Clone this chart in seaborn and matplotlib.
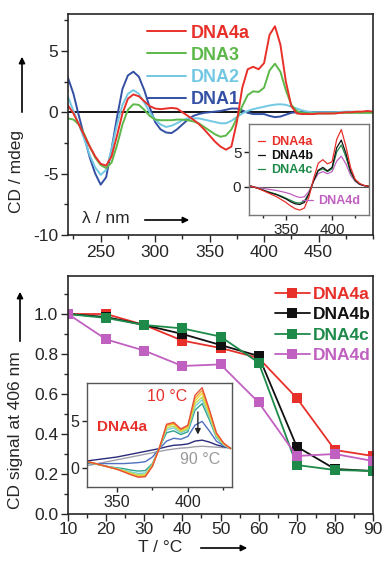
import numpy as np
import matplotlib
matplotlib.use("Agg")
import matplotlib.pyplot as plt
from matplotlib.ticker import MultipleLocator
import seaborn as sns

# ---- main CD spectra (top panel), 220-500 nm every 5 nm ----
wl = np.arange(220, 501, 5)
dna1 = [2.8, 1.5, -0.3, -2.0, -3.7, -5.0, -5.9, -5.3, -3.0, -0.4, 1.9, 3.0, 3.3, 2.9, 1.8, 0.4,
        -0.8, -1.4, -1.65, -1.7, -1.4, -1.0, -0.6, -0.3, -0.15, -0.05, 0.0, 0.05, 0.1, 0.2, 0.3,
        0.3, 0.15, -0.05, -0.15, -0.15, -0.15, -0.3, -0.4, -0.35, -0.2, -0.05, 0.0, 0.0, 0.0,
        0.0, 0.0, 0.0, 0.0, 0.0, 0.0, 0.0, 0.0, 0.0, 0.0, 0.0, 0.0]
dna2 = [1.25, 0.1, -1.0, -2.2, -3.5, -4.5, -5.1, -4.7, -3.0, -1.0, 0.6, 1.5, 1.8, 1.5, 0.8, 0.0,
        -0.6, -1.0, -1.2, -1.1, -0.9, -0.65, -0.5, -0.5, -0.5, -0.6, -0.7, -0.8, -0.9, -0.9, -0.7,
        -0.4, -0.1, 0.1, 0.25, 0.35, 0.45, 0.55, 0.62, 0.65, 0.6, 0.45, 0.3, 0.15, 0.05, 0.0,
        0.0, 0.0, 0.0, 0.0, 0.02, 0.05, 0.05, 0.02, 0.0, 0.0, 0.0]
dna3 = [-0.5, -0.6, -1.0, -1.8, -2.8, -3.7, -4.3, -4.55, -4.1, -2.7, -1.0, 0.2, 0.65, 0.6, 0.2,
        -0.3, -0.6, -0.65, -0.65, -0.65, -0.6, -0.6, -0.65, -0.75, -0.9, -1.2, -1.5, -1.8, -2.0,
        -1.9, -1.4, -0.5, 0.5, 1.4, 1.7, 1.65, 2.0, 3.4, 3.95, 3.3, 1.8, 0.6, 0.1, -0.05, -0.1,
        -0.1, -0.1, -0.1, -0.1, -0.08, -0.05, -0.05, -0.05, -0.05, -0.05, -0.05, -0.05]
dna4a = [0.55, -0.1, -1.0, -1.9, -2.8, -3.6, -4.2, -4.35, -3.6, -1.9, -0.1, 1.1, 1.45, 1.3, 0.9,
         0.5, 0.3, 0.25, 0.3, 0.35, 0.3, 0.0, -0.3, -0.6, -0.95, -1.4, -1.9, -2.4, -2.8, -3.05,
         -2.8, -0.8, 2.0, 3.5, 3.7, 3.5, 4.0, 6.3, 7.0, 5.5, 2.5, 0.5, -0.1, -0.15, -0.15, -0.15,
         -0.1, -0.1, -0.1, -0.1, -0.05, 0.0, 0.0, 0.05, 0.05, 0.1, 0.05]

# ---- top inset, 310-440 nm ----
wl_in = np.arange(310, 441, 5)
in4a = [0.2, 0.0, -0.2, -0.5, -0.8, -1.1, -1.4, -1.8, -2.2, -2.7, -3.1, -3.3, -3.0, -1.4, 1.2,
        3.4, 3.9, 3.3, 3.6, 6.8, 8.2, 5.8, 2.8, 1.1, 0.5, 0.2, 0.1]
in4b = [0.2, 0.0, -0.2, -0.45, -0.7, -0.9, -1.1, -1.4, -1.7, -2.1, -2.4, -2.5, -2.2, -1.0, 0.9,
        2.4, 2.8, 2.3, 2.8, 5.6, 6.7, 4.8, 2.3, 1.0, 0.4, 0.2, 0.1]
in4c = [0.2, 0.0, -0.2, -0.4, -0.65, -0.85, -1.05, -1.3, -1.6, -1.9, -2.2, -2.3, -2.0, -0.9, 0.9,
        2.3, 2.6, 2.2, 2.6, 5.0, 6.0, 4.3, 2.1, 0.9, 0.4, 0.2, 0.1]
in4d = [0.2, 0.05, -0.1, -0.2, -0.3, -0.4, -0.5, -0.65, -0.8, -1.0, -1.3, -1.5, -1.4, -0.6, 0.8,
        1.9, 2.2, 1.9, 2.2, 3.7, 4.4, 3.3, 1.7, 0.8, 0.35, 0.15, 0.1]

# ---- melting curves (bottom panel) ----
temps = [10, 20, 30, 40, 50, 60, 70, 80, 90]
melt4a = [1.0, 1.0, 0.945, 0.867, 0.83, 0.78, 0.58, 0.32, 0.29]
melt4b = [1.0, 0.985, 0.945, 0.9, 0.845, 0.79, 0.337, 0.225, 0.215]
melt4c = [1.0, 0.98, 0.945, 0.928, 0.887, 0.757, 0.245, 0.22, 0.215]
melt4d = [1.0, 0.873, 0.817, 0.74, 0.748, 0.558, 0.29, 0.30, 0.265]

# ---- bottom inset: DNA4a spectra at 10..90 C, 330-430 nm ----
wl_t = np.arange(330, 431, 5)
t10 = [0.7, 0.5, 0.3, 0.1, -0.1, -0.4, -0.7, -0.95, -0.9, 0.2, 2.2, 4.7, 4.9, 4.2, 4.6, 7.8, 8.6, 6.3, 3.8, 2.7, 2.1]
t20 = [0.7, 0.5, 0.3, 0.1, -0.1, -0.35, -0.65, -0.9, -0.85, 0.25, 2.2, 4.6, 4.8, 4.1, 4.5, 7.5, 8.3, 6.1, 3.7, 2.7, 2.1]
t30 = [0.7, 0.5, 0.3, 0.1, -0.1, -0.3, -0.6, -0.8, -0.75, 0.3, 2.2, 4.5, 4.7, 4.0, 4.4, 7.2, 8.0, 5.9, 3.6, 2.6, 2.1]
t40 = [0.65, 0.45, 0.3, 0.1, -0.05, -0.25, -0.5, -0.7, -0.65, 0.35, 2.2, 4.3, 4.5, 3.9, 4.2, 6.9, 7.6, 5.7, 3.5, 2.6, 2.1]
t50 = [0.65, 0.45, 0.3, 0.1, 0.0, -0.2, -0.4, -0.55, -0.5, 0.4, 2.2, 4.1, 4.3, 3.8, 4.1, 6.6, 7.3, 5.5, 3.4, 2.5, 2.1]
t60 = [0.6, 0.45, 0.3, 0.15, 0.05, -0.05, -0.2, -0.3, -0.25, 0.5, 2.2, 3.8, 4.0, 3.6, 3.9, 6.2, 6.9, 5.2, 3.3, 2.5, 2.1]
t70 = [0.5, 0.5, 0.5, 0.5, 0.5, 0.5, 0.55, 0.6, 0.7, 1.2, 2.1, 2.9, 3.2, 3.1, 3.4, 4.6, 5.0, 4.0, 2.9, 2.4, 2.1]
t80 = [0.8, 0.9, 1.0, 1.1, 1.2, 1.35, 1.5, 1.65, 1.8, 1.95, 2.1, 2.3, 2.45, 2.5, 2.6, 2.9, 3.0, 2.8, 2.5, 2.3, 2.2]
t90 = [0.3, 0.45, 0.6, 0.75, 0.9, 1.05, 1.2, 1.35, 1.5, 1.65, 1.8, 1.95, 2.05, 2.15, 2.2, 2.3, 2.35, 2.3, 2.25, 2.2, 2.15]
temp_spectra = [t10, t20, t30, t40, t50, t60, t70, t80, t90]
temp_colors = ['#e8503a', '#f0a030', '#e6dc3c', '#b4d860', '#78d0dc', '#30a08a', '#5070c0', '#2a2a7a', '#a0a0aa']

RED = '#e8302a'
GREEN3 = '#5cb848'
CYAN = '#72c8e2'
BLUE = '#3450a4'
BLACK = '#111111'
GREEN4 = '#1e8a4a'
MAG = '#c060c0'

sns.set_theme(style='ticks')
plt.rcParams['font.family'] = ['Liberation Sans', 'DejaVu Sans']
plt.rcParams['axes.linewidth'] = 1.2
plt.rcParams['axes.unicode_minus'] = False

W, H = 385, 566
fig = plt.figure(figsize=(W / 100, H / 100), dpi=100)


def box(l, t, r, b):
    return [l / W, 1 - b / H, (r - l) / W, (b - t) / H]


def fp(x, y):
    return (x / W, 1 - y / H)


def arrow(ax, start, end):
    ax.annotate('', xy=fp(*end), xytext=fp(*start), xycoords='figure fraction',
                textcoords='figure fraction', annotation_clip=False,
                arrowprops=dict(arrowstyle='-|>', color='black', lw=1.2, mutation_scale=9))


def style_ticks(ax, size):
    ax.tick_params(which='both', direction='out', width=1.0, labelsize=size, pad=2)
    ax.tick_params(which='major', length=5)
    ax.tick_params(which='minor', length=3)


# ================= top panel =================
ax1 = fig.add_axes(box(68, 14, 373, 235))
for y, c, lab in [(dna1, BLUE, 'DNA1'), (dna2, CYAN, 'DNA2'), (dna3, GREEN3, 'DNA3'), (dna4a, RED, 'DNA4a')]:
    sns.lineplot(x=wl, y=y, color=c, lw=1.4, label=lab, ax=ax1)
ax1.axhline(0, color='black', lw=1.3, zorder=1)
ax1.set_xlim(220, 500)
ax1.set_ylim(-10, 8)
ax1.xaxis.set_minor_locator(MultipleLocator(25))
ax1.yaxis.set_major_locator(MultipleLocator(5))
ax1.yaxis.set_minor_locator(MultipleLocator(2.5))
ax1.set_xticks([250, 300, 350, 400, 450])
style_ticks(ax1, 12.5)
ax1.set_xlabel('')
ax1.set_ylabel('')
h, l = ax1.get_legend_handles_labels()
ax1.legend(h[::-1], l[::-1], loc='upper left', bbox_to_anchor=(0.205, 1.025), frameon=False,
           handlelength=2.2, handletextpad=0.25, labelspacing=0.28, labelcolor='linecolor',
           prop={'weight': 'bold', 'size': 13})
ax1.text(0.045, 0.075, 'λ / nm', transform=ax1.transAxes, fontsize=12.5, va='center')
arrow(ax1, (142, 220), (192, 220))

fig.text(*fp(17, 172), 'CD / mdeg', rotation=90, ha='center', va='center', fontsize=12.5)
arrow(ax1, (22, 115), (22, 54))

# top inset
ax1i = fig.add_axes(box(249, 124, 369, 215))
for y, c, lab in [(in4d, MAG, 'DNA4d'), (in4c, GREEN4, 'DNA4c'), (in4b, BLACK, 'DNA4b'), (in4a, RED, 'DNA4a')]:
    sns.lineplot(x=wl_in, y=y, color=c, lw=0.9, label=lab, ax=ax1i)
ax1i.axhline(0, color='#555555', lw=0.8, zorder=1)
ax1i.set_xlim(310, 440)
ax1i.set_ylim(-4, 9)
ax1i.xaxis.set_major_locator(MultipleLocator(50))
ax1i.xaxis.set_minor_locator(MultipleLocator(25))
ax1i.yaxis.set_major_locator(MultipleLocator(5))
for s in ax1i.spines.values():
    s.set_color('#777777')
    s.set_linewidth(1.0)
style_ticks(ax1i, 11)
ax1i.tick_params(which='major', length=3.5)
ax1i.tick_params(which='minor', length=2)
ax1i.set_xlabel('')
ax1i.set_ylabel('')
h, l = ax1i.get_legend_handles_labels()
lg1 = ax1i.legend(h[3:0:-1], l[3:0:-1], loc='upper left', bbox_to_anchor=(-0.02, 0.99), frameon=False,
                  handlelength=0.6, handletextpad=0.5, labelspacing=0.15, labelcolor='linecolor',
                  prop={'weight': 'bold', 'size': 9})
ax1i.add_artist(lg1)
ax1i.legend(h[:1], l[:1], loc='lower right', bbox_to_anchor=(1.02, -0.04), frameon=False,
            handlelength=0.9, handletextpad=0.4, labelcolor='linecolor',
            prop={'weight': 'bold', 'size': 9})

# ================= bottom panel =================
ax2 = fig.add_axes(box(68, 276, 373, 514))
for y, c, lab in [(melt4a, RED, 'DNA4a'), (melt4b, BLACK, 'DNA4b'), (melt4c, GREEN4, 'DNA4c'), (melt4d, MAG, 'DNA4d')]:
    sns.lineplot(x=temps, y=y, color=c, lw=1.3, marker='s', markersize=6.5, markeredgewidth=0,
                 label=lab, ax=ax2)
ax2.set_xlim(10, 90)
ax2.set_ylim(0, 1.19)
ax2.xaxis.set_major_locator(MultipleLocator(10))
ax2.xaxis.set_minor_locator(MultipleLocator(5))
ax2.yaxis.set_major_locator(MultipleLocator(0.2))
ax2.yaxis.set_minor_locator(MultipleLocator(0.1))
ax2.yaxis.set_major_formatter(matplotlib.ticker.FormatStrFormatter('%.1f'))
style_ticks(ax2, 12.5)
ax2.tick_params(axis='x', which='major', pad=1)
ax2.set_xlabel('')
ax2.set_ylabel('')
ax2.legend(loc='upper right', bbox_to_anchor=(1.045, 1.02), frameon=False,
           handlelength=2.0, handletextpad=0.2, labelspacing=0.3, labelcolor='linecolor',
           prop={'weight': 'bold', 'size': 12.5})

fig.text(*fp(16, 430), 'CD signal at 406 nm', rotation=90, ha='center', va='center', fontsize=12.5)
arrow(ax2, (20, 344), (20, 289))
fig.text(*fp(160, 548), 'T / °C', ha='center', va='center', fontsize=12.5)
arrow(ax2, (198, 548), (250, 548))

# bottom inset
ax2i = fig.add_axes(box(87, 383, 232, 487))
for y, c in zip(temp_spectra[::-1], temp_colors[::-1]):
    sns.lineplot(x=wl_t, y=y, color=c, lw=1.0, ax=ax2i)
ax2i.set_xlim(329, 431)
ax2i.set_ylim(-2, 9.1)
ax2i.xaxis.set_major_locator(MultipleLocator(50))
ax2i.xaxis.set_minor_locator(MultipleLocator(25))
ax2i.yaxis.set_major_locator(MultipleLocator(5))
for s in ax2i.spines.values():
    s.set_color('#555555')
    s.set_linewidth(1.0)
style_ticks(ax2i, 11.5)
ax2i.tick_params(which='major', length=3.5)
ax2i.tick_params(which='minor', length=2)
ax2i.set_xlabel('')
ax2i.set_ylabel('')
ax2i.text(0.24, 0.58, 'DNA4a', transform=ax2i.transAxes, color=RED, fontsize=11,
          fontweight='bold', ha='center', va='center')
ax2i.text(0.55, 0.87, '10 °C', transform=ax2i.transAxes, color=RED, fontsize=11.5,
          ha='center', va='center')
ax2i.text(0.78, 0.26, '90 °C', transform=ax2i.transAxes, color='#999999', fontsize=11.5,
          ha='center', va='center')
ax2i.annotate('', xy=(407, 3.3), xytext=(407, 6.3),
              arrowprops=dict(arrowstyle='-|>', color='#222222', lw=1.0, mutation_scale=8))

fig.savefig('out.png', dpi=100)
